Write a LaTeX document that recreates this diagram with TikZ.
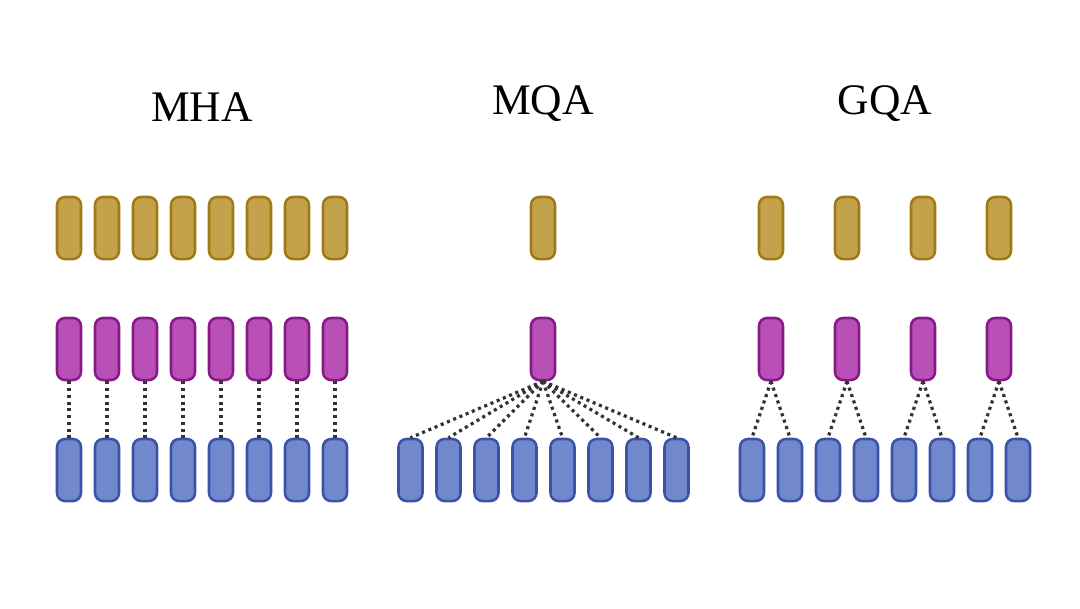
\documentclass[tikz,border=0pt]{standalone}
\usepackage{fontspec}
\setmainfont{Liberation Serif}

\definecolor{vfill}{RGB}{196,162,75}
\definecolor{vdraw}{RGB}{160,122,20}
\definecolor{kfill}{RGB}{184,80,184}
\definecolor{kdraw}{RGB}{135,25,135}
\definecolor{qfill}{RGB}{113,137,204}
\definecolor{qdraw}{RGB}{60,82,168}

\begin{document}
\begin{tikzpicture}[x=0.025cm,y=-0.025cm,
	head/.style={rectangle,rounded corners=0.2cm,line width=1.8pt,minimum width=0.6cm,minimum height=1.55cm,inner sep=0pt},
	vhead/.style={head,fill=vfill,draw=vdraw},
	khead/.style={head,fill=kfill,draw=kdraw},
	qhead/.style={head,fill=qfill,draw=qdraw},
	link/.style={line width=2.3pt,dash pattern=on 2.2pt off 2.6pt,black!80},
	title/.style={font=\fontsize{31}{31}\selectfont}]

	\useasboundingbox (0,0) rectangle (1080,608);

	% titles
	\node[title](mha) at (202,107){MHA};
	\node[title](mqa) at (543,104){MQA};
	\node[title](gqa) at (885,104){GQA};

	% MHA: one key per query
	\foreach \i in {1,...,8}{
		\node[vhead](mhav\i) at ({69+38*(\i-1)},228){};
		\node[khead](mhak\i) at ({69+38*(\i-1)},349){};
		\node[qhead](mhaq\i) at ({69+38*(\i-1)},470){};
		\draw[link] (mhak\i.south) -- (mhaq\i.north);
	}

	% MQA: one key shared by all queries
	\node[vhead](mqav) at (543,228){};
	\node[khead](mqak) at (543,349){};
	\foreach \i in {1,...,8}{
		\node[qhead](mqaq\i) at ({410.5+38*(\i-1)},470){};
		\draw[link] (mqak.south) -- (mqaq\i.north);
	}

	% GQA: one key per group of two queries
	\foreach \g in {1,...,4}{
		\node[vhead](gqav\g) at ({771+76*(\g-1)},228){};
		\node[khead](gqak\g) at ({771+76*(\g-1)},349){};
	}
	\foreach \i in {1,...,8}{
		\pgfmathtruncatemacro{\g}{(\i+1)/2}
		\node[qhead](gqaq\i) at ({752+38*(\i-1)},470){};
		\draw[link] (gqak\g.south) -- (gqaq\i.north);
	}

\end{tikzpicture}
\end{document}
